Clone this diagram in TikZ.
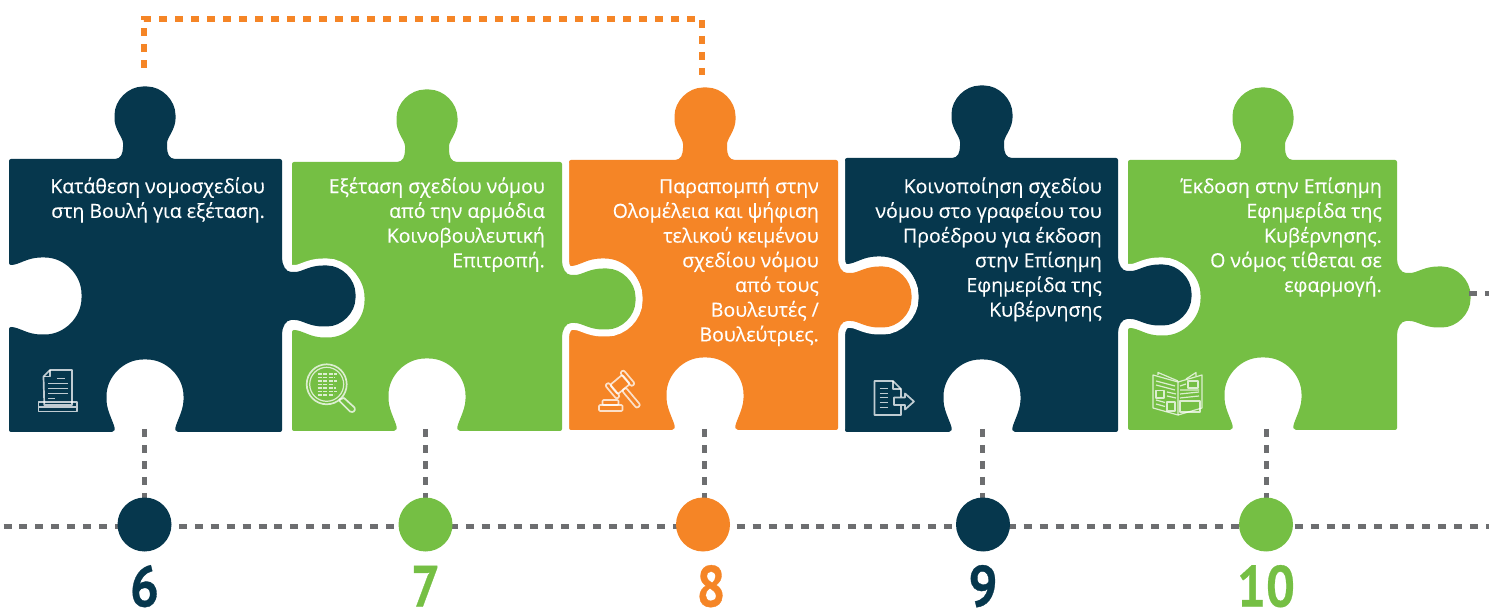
\documentclass[tikz,border=0pt]{standalone}
\usepackage{graphicx}
\usepackage{fontspec}
\newfontfamily\capfont[FakeBold=0.3]{Open Sans}
\newfontfamily\numfont[FakeBold=0.6]{PT Sans}
\definecolor{navy}{HTML}{06374D}
\definecolor{leaf}{HTML}{75BF44}
\definecolor{amber}{HTML}{F58526}
\definecolor{dotgray}{HTML}{6D6E70}
\newcommand{\numtxt}[1]{\scalebox{.88}[1]{#1}}
\tikzset{
  x=1pt,y=-1pt,
  stepcap/.style={font=\capfont\fontsize{19.5}{24.7}\selectfont,text=white,align=right,anchor=north east,inner sep=0pt},
  dotline/.style={draw=dotgray,line width=5pt,dash pattern=on 8pt off 7.94pt},
  orangeline/.style={draw=amber,line width=5.5pt,dash pattern=on 8pt off 8pt},
  marker/.style={circle,minimum size=54pt,inner sep=0pt},
  numlab/.style={font=\numfont\bfseries\fontsize{58}{58}\selectfont,inner sep=0pt,anchor=base},
  ico/.style={draw=white,draw opacity=.75,line width=1.7pt,line join=round,fill=none},
  icothin/.style={draw=white,draw opacity=.75,line width=1.2pt,line join=round,fill=none},
}
% #1 x0, #2 y top, #3 width, #4 height, #5 top-knob centre (local), #6 colour
\newcommand{\puzzle}[6]{%
  \begin{scope}[shift={(#1,#2)}]
  \def\w{#3}\def\h{#4}\def\c{#5}
  \path[fill=#6,rounded corners=2pt,preaction={draw=white,line width=14pt}]
    (0,0) -- ({\c-32},0)
    .. controls ({\c-24},0) and ({\c-22},-6) .. ({\c-22},-14)
    .. controls ({\c-22},-21) and ({\c-30.5},-30) .. ({\c-30.5},-42)
    .. controls ({\c-30.5},-58.8) and ({\c-16.8},-72.5) .. (\c,-72.5)
    .. controls ({\c+16.8},-72.5) and ({\c+30.5},-58.8) .. ({\c+30.5},-42)
    .. controls ({\c+30.5},-30) and ({\c+22},-21) .. ({\c+22},-14)
    .. controls ({\c+22},-6) and ({\c+24},0) .. ({\c+32},0)
    -- (\w,0) -- (\w,97)
    .. controls (\w,106) and ({\w+4},113) .. ({\w+11},113)
    .. controls ({\w+20},113) and ({\w+27},106.5) .. ({\w+43},106.5)
    .. controls ({\w+59.8},106.5) and ({\w+73.5},120.2) .. ({\w+73.5},137)
    .. controls ({\w+73.5},153.8) and ({\w+59.8},167.5) .. ({\w+43},167.5)
    .. controls ({\w+27},167.5) and ({\w+20},161) .. ({\w+11},161)
    .. controls ({\w+4},161) and (\w,168) .. (\w,177)
    -- (\w,\h) -- ({\c+31},\h)
    .. controls ({\c+29},{\h-6}) and ({\c+38.5},{\h-20}) .. ({\c+38.5},{\h-34})
    .. controls ({\c+38.5},{\h-55.3}) and ({\c+21.3},{\h-72.5}) .. (\c,{\h-72.5})
    .. controls ({\c-21.3},{\h-72.5}) and ({\c-38.5},{\h-55.3}) .. ({\c-38.5},{\h-34})
    .. controls ({\c-38.5},{\h-20}) and ({\c-29},{\h-6}) .. ({\c-31},\h)
    -- (0,\h) -- (0,168)
    .. controls (10,168) and (18,175.5) .. (34,175.5)
    .. controls (55.3,175.5) and (72.5,158.3) .. (72.5,137)
    .. controls (72.5,115.7) and (55.3,98.5) .. (34,98.5)
    .. controls (18,98.5) and (10,106) .. (0,106)
    -- cycle;
  \end{scope}}
\begin{document}
\begin{tikzpicture}
\useasboundingbox (0,0) rectangle (1489,609);
% pieces, last first so that each knob lies over the next piece
\puzzle{1128}{160}{269}{270}{135}{leaf}
\puzzle{845}{158}{273}{274}{137}{navy}
\puzzle{569}{160}{269}{270}{136}{amber}
\puzzle{292}{162}{270}{269}{135}{leaf}
\puzzle{9}{159}{273}{273}{136}{navy}

% named anchors
\coordinate (hl) at (3.5,526.5);
\coordinate (hr) at (1489,526.5);
\coordinate (n6) at (144.5,429);
\coordinate (n7) at (425.5,429);
\coordinate (n8) at (704.5,429);
\coordinate (n9) at (982.5,429);
\coordinate (n10) at (1266.5,429);
\coordinate (ka) at (144,68);
\coordinate (kb) at (702,75);
\coordinate (st) at (1469,294);
\coordinate (se) at (1489,294);

% markers
\draw[dotline] (hl) -- (hr);
\draw[dotline] (n6) -- (144.5,500);
\draw[dotline] (n7) -- (425.5,500);
\draw[dotline] (n8) -- (704.5,500);
\draw[dotline] (n9) -- (982.5,500);
\draw[dotline] (n10) -- (1266.5,500);
\draw[dotline] (st) -- (se);
\draw[orangeline] (ka) -- (144,19) -- (702,19) -- (kb);

\node[marker,fill=navy] (c6) at (144.5,524.5) {};
\node[marker,fill=leaf] (c7) at (425.5,524.5) {};
\node[marker,fill=amber] (c8) at (703,524.5) {};
\node[marker,fill=navy] (c9) at (983,524.5) {};
\node[marker,fill=leaf] (c10) at (1266,524.5) {};

\node[numlab,text=navy] (l6) at (144.5,606.5) {\numtxt{6}};
\node[numlab,text=leaf] (l7) at (425.5,606.5) {\numtxt{7}};
\node[numlab,text=amber] (l8) at (711,606.5) {\numtxt{8}};
\node[numlab,text=navy] (l9) at (983,606.5) {\numtxt{9}};
\node[numlab,text=leaf] (l10) at (1266,606.5) {\numtxt{10}};

% captions
\node[stepcap] (t6) at (265,175.7) {\strut Κατάθεση νομοσχεδίου\\στη Βουλή για εξέταση.};
\node[stepcap] (t7) at (545,175.7) {\strut Εξέταση σχεδίου νόμου\\από την αρμόδια\\Κοινοβουλευτική\\Επιτροπή.};
\node[stepcap] (t8) at (819,175.7) {\strut Παραπομπή στην\\Ολομέλεια και ψήφιση\\τελικού κειμένου\\σχεδίου νόμου\\από τους\\Βουλευτές /\\Βουλεύτριες.};
\node[stepcap] (t9) at (1102,175.7) {\strut Κοινοποίηση σχεδίου\\νόμου στο γραφείου του\\Προέδρου για έκδοση\\στην Επίσημη\\Εφημερίδα της\\Κυβέρνησης};
\node[stepcap] (t10) at (1382,175.7) {\strut Έκδοση στην Επίσημη\\Εφημερίδα της\\Κυβέρνησης.\\Ο νόμος τίθεται σε\\εφαρμογή.};

% icon: document in tray
\draw[ico] (43.5,376.5) -- (50,370) -- (72,370) -- (72,405) -- (44.3,405) -- cycle;
\draw[ico] (43.5,376.5) -- (50,376.5) -- (50,370);
\draw[ico] (57,378.5) -- (65,378.5) (48,383.5) -- (68,383.5) (48,388.5) -- (68,388.5) (48,393.5) -- (68,393.5) (48,398.5) -- (55,398.5);
\draw[ico] (38.5,402) rectangle (77,411.5) (38.5,407) -- (77,407);

% icon: magnifier
\draw[ico] (326.7,384.3) circle (20);
\draw[icothin] (326.7,384.3) circle (17);
\draw[ico,line cap=round] (339.5,399.5) -- (344,398) -- (354.5,407.5) .. controls (356,411) and (353,413) .. (350,411.5) -- (340,401.5) -- cycle;
\foreach \yy/\xa/\xb in {374/317.5/337,377.5/317.5/335,381/317.5/337,384.5/317.5/334,388/317.5/336,391.5/317.5/337,395/317.5/334}{
  \draw[icothin,dash pattern=on 4pt off 1.5pt] (\xa,\yy) -- (\xb,\yy);}

% icon: gavel
\begin{scope}[shift={(620,384.5)},rotate=40]
\draw[ico,rounded corners=1.5pt] (-8,-6) rectangle (8,6);
\draw[ico,rounded corners=2pt] (-12,-9) rectangle (-7.5,9);
\draw[ico,rounded corners=2pt] (7.5,-9) rectangle (12,9);
\draw[ico,rounded corners=2pt] (-2.5,6) rectangle (2.5,29);
\end{scope}
\draw[ico,rounded corners=1pt] (599,405) rectangle (622.5,411);
\draw[ico,rounded corners=1pt] (602.5,400) rectangle (618.5,405);

% icon: document and arrow
\draw[ico] (901,397) -- (901,389) -- (893,381) -- (874.5,381) -- (874.5,415) -- (901,415) -- (901,406);
\draw[ico] (893,381) -- (893,389) -- (901,389);
\draw[ico] (879.5,388.5) -- (888,388.5) (879.5,393.5) -- (888,393.5) (879.5,397.5) -- (888,397.5) (879.5,402.5) -- (888,402.5) (879.5,407.5) -- (888,407.5);
\draw[ico] (894,397.5) -- (905,397.5) -- (905,393.5) -- (914,401.5) -- (905,409.5) -- (905,405) -- (894,405) -- cycle;

% icon: newspaper
\draw[icothin] (1153,375) -- (1178,382) -- (1178,415) -- (1153,408) -- cycle;
\draw[icothin] (1178,382) -- (1202,375) -- (1202,408) -- (1178,415);
\draw[icothin] (1158,375) -- (1158,372.5) -- (1178,381) (1186,379) -- (1196,372.5) -- (1196,376);
\draw[icothin] (1156,390.5) rectangle (1164,398) (1167,402) rectangle (1175,411) (1188,381) rectangle (1198,388) (1180,401) rectangle (1200,412);
\draw[icothin] (1156,381) -- (1175,386) (1156,385) -- (1175,390) (1167,392) -- (1176,394) (1167,396) -- (1176,398) (1156,400) -- (1165,402.5) (1156,404) -- (1165,406.5) (1180,386) -- (1186,384) (1180,390) -- (1199,390) (1180,394) -- (1199,392) (1180,398) -- (1199,396);
\end{tikzpicture}
\end{document}
